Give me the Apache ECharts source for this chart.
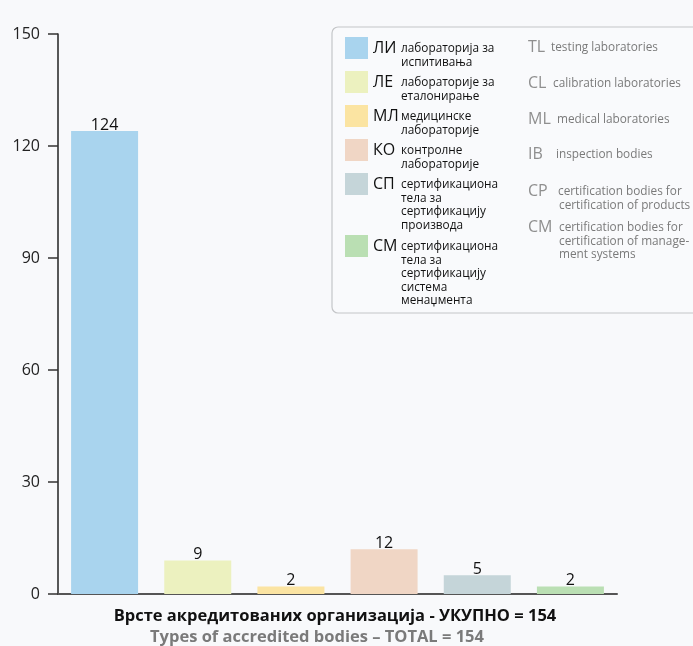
<!DOCTYPE html>
<html><head><meta charset="utf-8">
<script src="https://cdn.jsdelivr.net/npm/echarts@6/dist/echarts.min.js"></script>
<style>html,body{margin:0;padding:0;background:#f8f9fb}#c{width:693px;height:646px}</style>
</head><body><div id="c"></div>
<script>
const categories = ['ЛИ', 'ЛЕ', 'МЛ', 'КО', 'СП', 'СМ'];
const values = [124, 9, 2, 12, 5, 2];
const colors = ['#a9d4ee', '#ecf1bf', '#fbe4a2', '#f0d6c5', '#c5d5d9', '#badfb3'];
const yTicks = [0, 30, 60, 90, 120, 150];
const legendDesc = [
  ['лабораторија за', 'испитивања'],
  ['лабораторије за', 'еталонирање'],
  ['медицинске', 'лабораторије'],
  ['контролне', 'лабораторије'],
  ['сертификациона', 'тела за', 'сертификацију', 'производа'],
  ['сертификациона', 'тела за', 'сертификацију', 'система', 'менаџмента']
];
const enAbbr = ['TL', 'CL', 'ML', 'IB', 'CP', 'CM'];
const enDesc = [
  ['testing laboratories'],
  ['calibration laboratories'],
  ['medical laboratories'],
  ['inspection bodies'],
  ['certification bodies for', 'certification of products'],
  ['certification bodies for', 'certification of manage-', 'ment systems']
];
const titleSr = 'Врсте акредитованих организација - УКУПНО = 154';
const titleEn = 'Types of accredited bodies – TOTAL = 154';

const FONT = '"Open Sans", "Noto Sans", sans-serif';
const chart = echarts.init(document.getElementById('c'));

const srY = [48, 82, 116, 150, 184, 246];
const enY = [47, 83, 119, 154, 191, 227];
const enX = [551, 553, 557, 556, 558, 559];
const LH = 13.5;
const graphics = [];
graphics.push({type:'rect', shape:{x:332, y:27, width:380, height:286, r:6},
  style:{fill:'#f9fafc', stroke:'#c4c6c8', lineWidth:1.2}, z:1});
categories.forEach((c, i) => {
  graphics.push({type:'rect', shape:{x:345, y:srY[i]-11, width:23, height:22},
    style:{fill:colors[i]}, z:2});
  graphics.push({type:'text', x:373, y:srY[i], z:2,
    style:{text:c, font:'16px ' + FONT, fill:'#111', verticalAlign:'middle'}});
  legendDesc[i].forEach((t, j) => {
    graphics.push({type:'text', x:401, y:srY[i] + 1 + j*LH, z:2,
      style:{text:t, font:'11.8px ' + FONT, fill:'#111', verticalAlign:'middle'}});
  });
  graphics.push({type:'text', x:528, y:enY[i], z:2,
    style:{text:enAbbr[i], font:'16px ' + FONT, fill:'#8f8f8f', verticalAlign:'middle'}});
  enDesc[i].forEach((t, j) => {
    graphics.push({type:'text', x:(j === 0) ? enX[i] : 559, y:enY[i] + 1 + j*LH, z:2,
      style:{text:t, font:'11.8px ' + FONT, fill:'#7a7a7a', verticalAlign:'middle'}});
  });
});
graphics.push({type:'text', x:335, y:616, style:{text:titleSr, font:'bold 16.5px ' + FONT, fill:'#111', align:'center', verticalAlign:'middle'}});
graphics.push({type:'text', x:317, y:637, style:{text:titleEn, font:'bold 16.5px ' + FONT, fill:'#7a7a7a', align:'center', verticalAlign:'middle'}});

chart.setOption({
  backgroundColor: '#f8f9fb',
  animation: false,
  grid: {left: 58, right: 76, top: 34, bottom: 52},
  xAxis: {
    type: 'category', data: categories,
    axisLine: {lineStyle: {color: '#555', width: 2}},
    axisTick: {show: false}, axisLabel: {show: false}
  },
  yAxis: {
    type: 'value', min: yTicks[0], max: yTicks[yTicks.length-1], interval: 30,
    axisLine: {show: true, lineStyle: {color: '#222', width: 1.5}},
    axisTick: {show: true, length: 10, lineStyle: {color: '#333', width: 1.5}},
    splitLine: {show: false},
    axisLabel: {fontSize: 16, color: '#222', margin: 18, fontFamily: FONT}
  },
  series: [{
    type: 'bar', barWidth: 67,
    data: values.map((v, i) => ({value: v, itemStyle: {color: colors[i]}})),
    label: {show: true, position: 'top', distance: -2, fontSize: 16, color: '#111', fontFamily: FONT}
  }],
  graphic: graphics
});
</script></body></html>
